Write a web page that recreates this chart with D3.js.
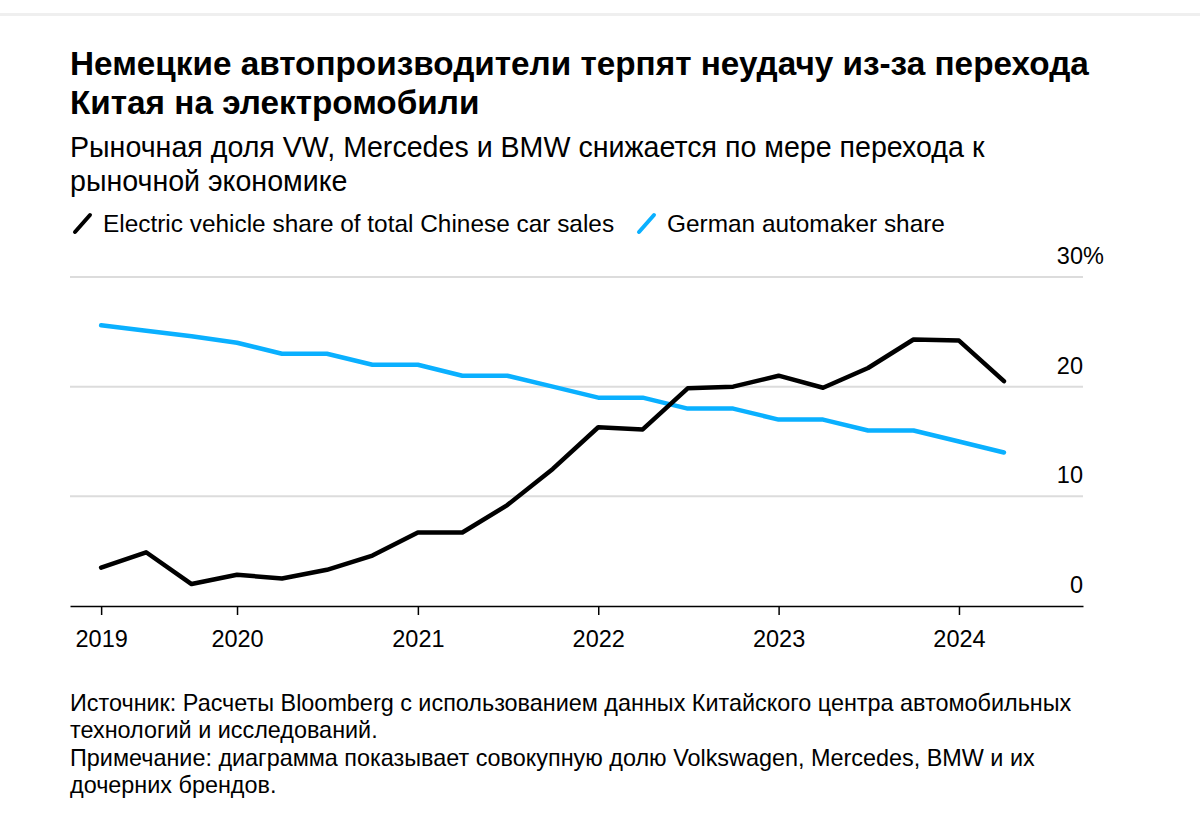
<!DOCTYPE html>
<html>
<head>
<meta charset="utf-8">
<script src="https://cdn.jsdelivr.net/npm/d3@7"></script>
<style>
  body { margin: 0; background: #fff; }
  svg { display: block; font-family: "Liberation Sans", Arial, sans-serif; }
</style>
</head>
<body>
<svg width="1200" height="839"></svg>
<script>
// quarterly points, Apr 2019 .. Apr 2024
var quarters = ["2019-04", "2019-07", "2019-10", "2020-01", "2020-04", "2020-07", "2020-10",
  "2021-01", "2021-04", "2021-07", "2021-10", "2022-01", "2022-04", "2022-07", "2022-10",
  "2023-01", "2023-04", "2023-07", "2023-10", "2024-01", "2024-04"];

var evShare = [3.5, 4.9, 2.0, 2.85, 2.5, 3.3, 4.6, 6.7, 6.7, 9.2, 12.5, 16.3,
  16.1, 19.85, 20.0, 21.0, 19.9, 21.7, 24.3, 24.2, 20.5];

var germanShare = [25.6, 25.1, 24.6, 24.0, 23.0, 23.0, 22.0, 22.0, 21.0, 21.0, 20.0, 19.0,
  19.0, 18.0, 18.0, 17.0, 17.0, 16.0, 16.0, 15.0, 14.0];

var yTicks = [0, 10, 20, 30];
var xTickDates = ["2019-04", "2020-01", "2021-01", "2022-01", "2023-01", "2024-01"];
var xTickLabels = ["2019", "2020", "2021", "2022", "2023", "2024"];

var titleLines = ["Немецкие автопроизводители терпят неудачу из-за перехода", "Китая на электромобили"];
var subtitleLines = ["Рыночная доля VW, Mercedes и BMW снижается по мере перехода к", "рыночной экономике"];
var legendLabels = ["Electric vehicle share of total Chinese car sales", "German automaker share"];
var noteLines = [
  "Источник: Расчеты Bloomberg с использованием данных Китайского центра автомобильных",
  "технологий и исследований.",
  "Примечание: диаграмма показывает совокупную долю Volkswagen, Mercedes, BMW и их",
  "дочерних брендов."
];

var colors = ["#000000", "#0ab0ff"];

var svg = d3.select("svg"),
  margin = { left: 70, right: 117, top: 277, bottom: 233 },
  width = +svg.attr("width"),
  height = +svg.attr("height");

var parse = d3.timeParse("%Y-%m");
var dates = quarters.map(parse);

// top divider
svg.append("rect").attr("x", 0).attr("y", 13).attr("width", width).attr("height", 3).attr("fill", "#efefef");

// titles
svg.append("g").selectAll("text")
  .data(titleLines)
  .enter().append("text")
  .attr("x", 70)
  .attr("y", function (d, i) { return 75 + i * 38.5; })
  .attr("font-size", 33.3)
  .attr("font-weight", "bold")
  .attr("fill", "#000")
  .text(function (d) { return d; });

svg.append("g").selectAll("text")
  .data(subtitleLines)
  .enter().append("text")
  .attr("x", 70)
  .attr("y", function (d, i) { return 157 + i * 34; })
  .attr("font-size", 28.6)
  .attr("fill", "#000")
  .text(function (d) { return d; });

// legend
var legendX = [72, 636];
var legend = svg.append("g").selectAll("g")
  .data(legendLabels)
  .enter().append("g")
  .attr("transform", function (d, i) { return "translate(" + legendX[i] + ",0)"; });
legend.append("line")
  .attr("x1", 3).attr("y1", 232).attr("x2", 18).attr("y2", 215)
  .attr("stroke", function (d, i) { return colors[i]; })
  .attr("stroke-width", 4)
  .attr("stroke-linecap", "round");
legend.append("text")
  .attr("x", 31)
  .attr("y", 232)
  .attr("font-size", 24.4)
  .attr("fill", "#000")
  .text(function (d) { return d; });

// scales
var x = d3.scaleTime()
  .domain([d3.timeDay.offset(dates[0], -63), d3.timeDay.offset(dates[dates.length - 1], 160)])
  .range([margin.left, width - margin.right]);

var y = d3.scaleLinear()
  .domain([0, 30])
  .range([height - margin.bottom, margin.top]);

// gridlines
svg.append("g").selectAll("line")
  .data(yTicks.filter(function (d) { return d > 0; }))
  .enter().append("line")
  .attr("x1", margin.left).attr("x2", width - margin.right)
  .attr("y1", function (d) { return y(d); })
  .attr("y2", function (d) { return y(d); })
  .attr("stroke", "#dcdcdc")
  .attr("stroke-width", 2);

// y labels (right side, above gridlines)
var yLab = svg.append("g")
  .attr("font-size", 23.5)
  .attr("fill", "#000");
yLab.selectAll("text")
  .data(yTicks)
  .enter().append("text")
  .attr("x", width - margin.right)
  .attr("y", function (d) { return y(d) - 13; })
  .attr("text-anchor", "end")
  .text(function (d) { return d; });
yLab.append("text")
  .attr("x", width - margin.right)
  .attr("y", y(30) - 13)
  .text("%");

// x axis
var xAxis = svg.append("g")
  .attr("transform", "translate(0," + y(0) + ")")
  .call(d3.axisBottom(x)
    .tickValues(xTickDates.map(parse))
    .tickFormat(function (d, i) { return xTickLabels[i]; })
    .tickSize(9)
    .tickSizeOuter(0)
    .tickPadding(15));
xAxis.select(".domain").attr("stroke", "#000").attr("stroke-width", 1.5);
xAxis.selectAll(".tick line").attr("stroke", "#000").attr("stroke-width", 1.5);
xAxis.selectAll(".tick text")
  .attr("font-size", 23.5)
  .attr("font-family", "Liberation Sans, Arial, sans-serif")
  .attr("fill", "#000");

// lines
var line = d3.line()
  .x(function (d, i) { return x(dates[i]); })
  .y(function (d) { return y(d); });

svg.append("path")
  .datum(germanShare)
  .attr("d", line)
  .attr("fill", "none")
  .attr("stroke", colors[1])
  .attr("stroke-width", 4.5)
  .attr("stroke-linejoin", "round")
  .attr("stroke-linecap", "round");

svg.append("path")
  .datum(evShare)
  .attr("d", line)
  .attr("fill", "none")
  .attr("stroke", colors[0])
  .attr("stroke-width", 4.5)
  .attr("stroke-linejoin", "round")
  .attr("stroke-linecap", "round");

// footnote
svg.append("g").selectAll("text")
  .data(noteLines)
  .enter().append("text")
  .attr("x", 70)
  .attr("y", function (d, i) { return 711 + i * 27.3; })
  .attr("font-size", 23.4)
  .attr("fill", "#000")
  .text(function (d) { return d; });
</script>
</body>
</html>
